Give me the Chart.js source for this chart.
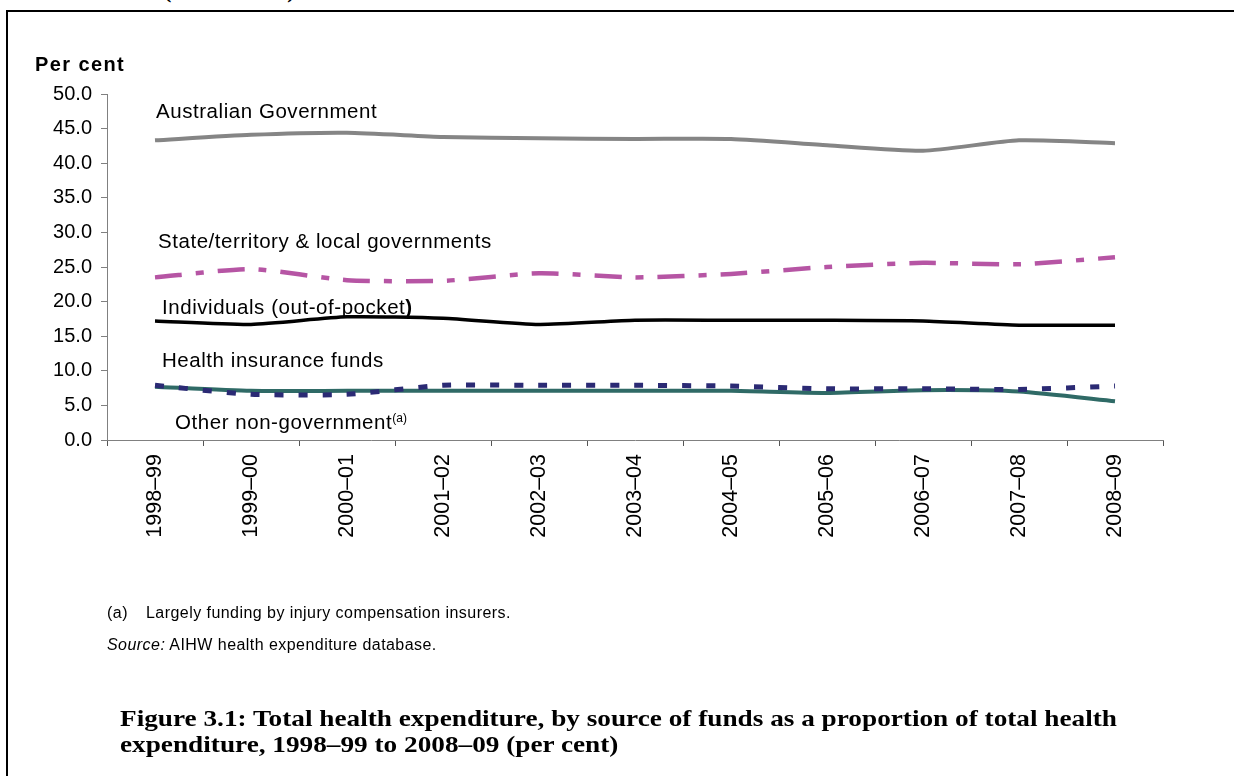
<!DOCTYPE html>
<html>
<head>
<meta charset="utf-8">
<script src="https://cdn.jsdelivr.net/npm/chart.js@4.4.1/dist/chart.umd.min.js"></script>
<style>
html,body{margin:0;padding:0;background:#fff;width:1234px;height:776px;overflow:hidden;position:relative;}
#frame{position:absolute;left:6px;top:10px;width:1400px;height:900px;border-left:2.5px solid #000;border-top:2.5px solid #000;}
canvas{position:absolute;left:0;top:0;}
.t{position:absolute;font-family:"Liberation Sans",Arial,sans-serif;color:#000;white-space:nowrap;line-height:1;}
.lbl{font-size:20.5px;letter-spacing:0.55px;}
.foot{font-size:16px;letter-spacing:0.45px;}
.title{position:absolute;font-family:"Liberation Serif","Times New Roman",serif;font-weight:bold;font-size:24px;color:#000;white-space:nowrap;line-height:1;transform-origin:0 50%;}
sup{font-size:12px;vertical-align:7px;line-height:0;letter-spacing:0;}
</style>
</head>
<body>
<div id="frame"></div>
<div class="title" style="left:164px;top:-20px;font-size:22px;letter-spacing:2.3px;">(continued)</div>
<canvas id="c" width="1234" height="776"></canvas>

<div class="t" style="left:35px;top:54px;font-size:20px;font-weight:bold;letter-spacing:1.4px;">Per cent</div>
<div class="t lbl" style="left:156px;top:101px;">Australian Government</div>
<div class="t lbl" style="left:158px;top:231px;">State/territory &amp; local governments</div>
<div class="t lbl" style="left:162px;top:297px;">Individuals (out-of-pocket<b>)</b></div>
<div class="t lbl" style="left:162px;top:350px;">Health insurance funds</div>
<div class="t lbl" style="left:175px;top:412px;">Other non-government<sup>(a)</sup></div>

<div class="t foot" style="left:107px;top:605px;">(a)</div>
<div class="t foot" style="left:146px;top:605px;">Largely funding by injury compensation insurers.</div>
<div class="t foot" style="left:107px;top:637px;"><i>Source:</i> AIHW health expenditure database.</div>

<div class="title" id="t1" style="left:120px;top:706px;">Figure 3.1: Total health expenditure, by source of funds as a proportion of total health</div>
<div class="title" id="t2" style="left:120px;top:732px;">expenditure, 1998–99 to 2008–09 (per cent)</div>

<script>
const categories = ['1998–99','1999–00','2000–01','2001–02','2002–03','2003–04','2004–05','2005–06','2006–07','2007–08','2008–09'];
const australianGovernment = [43.3, 44.1, 44.4, 43.8, 43.6, 43.5, 43.5, 42.6, 41.8, 43.3, 42.9];
const stateLocalGovernments = [23.5, 24.7, 23.1, 23.0, 24.1, 23.5, 24.0, 25.0, 25.6, 25.4, 26.4];
const individualsOutOfPocket = [17.2, 16.7, 17.8, 17.6, 16.7, 17.3, 17.3, 17.3, 17.2, 16.6, 16.6];
const healthInsuranceFunds = [7.9, 6.6, 6.6, 7.9, 7.9, 7.9, 7.8, 7.4, 7.4, 7.3, 7.8];
const otherNonGovernment = [7.7, 7.1, 7.1, 7.1, 7.1, 7.1, 7.1, 6.8, 7.2, 7.0, 5.6];
const yMin = 0, yMax = 50, yStep = 5;

// fit title horizontally to reference width
(function(){
  const t1 = document.getElementById('t1'), t2 = document.getElementById('t2');
  const target = 997;
  const w = t1.getBoundingClientRect().width;
  const s = target / w;
  t1.style.transform = 'scaleX(' + s + ')';
  t2.style.transform = 'scaleX(' + s + ')';
})();

const tickFont = {family: '"Liberation Sans", Arial, sans-serif', size: 20};
const xTickFont = {family: '"Liberation Sans", Arial, sans-serif', size: 21.5};

new Chart(document.getElementById('c').getContext('2d'), {
  type: 'line',
  data: {
    labels: categories,
    datasets: [
      {label: 'Health insurance funds', data: healthInsuranceFunds, borderColor: '#2B2A74', borderWidth: 5, borderDash: [9, 15], borderCapStyle: 'butt', tension: 0.2},
      {label: 'Other non-government', data: otherNonGovernment, borderColor: '#2F6A66', borderWidth: 4, tension: 0.2},
      {label: 'Individuals (out-of-pocket)', data: individualsOutOfPocket, borderColor: '#000000', borderWidth: 3.5, tension: 0.2},
      {label: 'State/territory & local governments', data: stateLocalGovernments, borderColor: '#B655A4', borderWidth: 4.5, borderDash: [27, 14, 8, 14], borderCapStyle: 'butt', tension: 0.2},
      {label: 'Australian Government', data: australianGovernment, borderColor: '#858585', borderWidth: 4, tension: 0.2}
    ]
  },
  options: {
    responsive: false,
    animation: false,
    layout: {padding: {left: 37, right: 71, top: 94, bottom: 206}},
    plugins: {legend: {display: false}, tooltip: {enabled: false}},
    elements: {point: {radius: 0}},
    scales: {
      x: {
        offset: true,
        grid: {offset: true, drawOnChartArea: false, drawTicks: true, tickLength: 6, color: '#555555'},
        border: {color: '#808080', width: 1},
        ticks: {minRotation: 90, maxRotation: 90, autoSkip: false, padding: 8, color: '#000', font: xTickFont},
        afterFit(s) { s.height = 130; }
      },
      y: {
        min: yMin, max: yMax,
        grid: {drawOnChartArea: false, tickLength: 6, color: '#808080'},
        border: {color: '#808080', width: 1},
        ticks: {stepSize: yStep, padding: 9, color: '#000', font: tickFont, callback: v => Number(v).toFixed(1)},
        afterFit(s) { s.width = 70; }
      }
    }
  }
});
</script>
</body>
</html>
